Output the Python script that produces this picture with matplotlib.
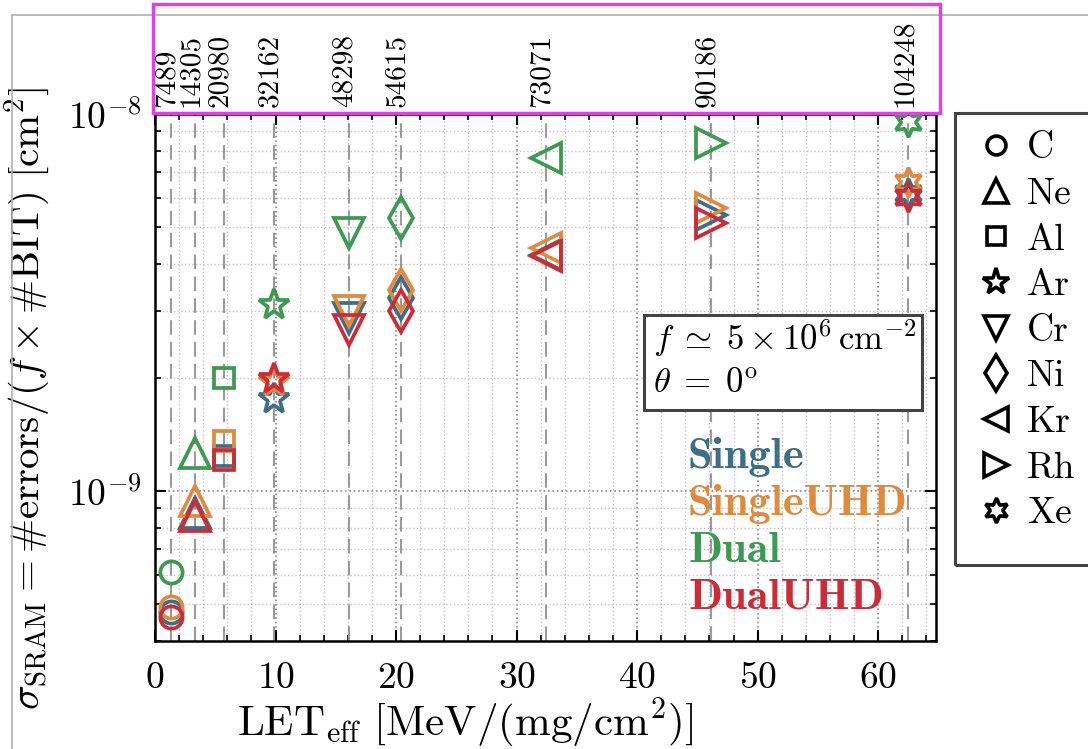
import matplotlib
matplotlib.use('Agg')
import matplotlib.pyplot as plt
import matplotlib.transforms as mtransforms
from matplotlib.lines import Line2D
from matplotlib.patches import Rectangle
from matplotlib.ticker import MultipleLocator, LogLocator, NullFormatter

plt.rcParams['font.family'] = 'serif'
plt.rcParams['font.serif'] = ['cmr10']
plt.rcParams['mathtext.fontset'] = 'cm'
plt.rcParams['axes.formatter.use_mathtext'] = True

# heavy-ion beams and their effective LET [MeV/(mg/cm2)]
ions = ['C', 'Ne', 'Al', 'Ar', 'Cr', 'Ni', 'Kr', 'Rh', 'Xe']
let_eff = [1.3, 3.3, 5.7, 9.9, 16.1, 20.4, 32.4, 46.1, 62.5]
top_counts = ['7489', '14305', '20980', '32162', '48298', '54615', '73071', '90186', '104248']

# SRAM cross sections [cm2] per configuration
single = [4.77e-10, 8.73e-10, 1.24e-9, 1.75e-9, 2.88e-9, 3.26e-9, 4.23e-9, 5.40e-9, 6.18e-9]
single_uhd = [4.92e-10, 9.40e-10, 1.36e-9, 1.95e-9, 3.00e-9, 3.42e-9, 4.42e-9, 5.63e-9, 6.62e-9]
dual = [6.08e-10, 1.26e-9, 2.00e-9, 3.12e-9, 4.84e-9, 5.30e-9, 7.63e-9, 8.36e-9, 9.54e-9]
dual_uhd = [4.62e-10, 8.59e-10, 1.21e-9, 1.98e-9, 2.68e-9, 3.00e-9, 4.19e-9, 5.14e-9, 6.04e-9]

series = [
    ('Single', single, '#3e6f86'),
    ('SingleUHD', single_uhd, '#e28a3b'),
    ('Dual', dual, '#3c9a52'),
    ('DualUHD', dual_uhd, '#cf2b37'),
]

markers = ['o', '^', 's', '*', 'v', 'd', '<', '>', (6, 1, 0)]
msizes = [16, 21, 15, 23, 21, 21, 21, 21, 21]

W, H = 1088, 749
fig = plt.figure(figsize=(W / 100, H / 100), dpi=100)
ax = fig.add_axes([155 / W, 1 - 641 / H, (936 - 155) / W, (641 - 114) / H])


def px(x, y):
    """figure pixel (from top-left) -> figure fraction"""
    return x / W, 1 - y / H


for x in let_eff:
    ax.axvline(x, color='#9a9a9a', ls=(0, (7, 3.5)), lw=1.5, zorder=1)

for name, vals, color in series:
    for x, y, m, s in zip(let_eff, vals, markers, msizes):
        ax.plot(x, y, marker=m, ms=s, mfc='none', mec=color, mew=2.7,
                ls='none', zorder=3)

ax.set_yscale('log')
ax.set_xlim(0, 64.8)
ax.set_ylim(4.0e-10, 1e-8)
ax.xaxis.set_major_locator(MultipleLocator(10))
ax.xaxis.set_minor_locator(MultipleLocator(2))
ax.yaxis.set_major_locator(LogLocator(base=10))
ax.yaxis.set_minor_locator(LogLocator(base=10, subs=range(2, 10)))
ax.yaxis.set_minor_formatter(NullFormatter())

ax.grid(which='major', ls=':', color='#8a8a8a', lw=1.2, zorder=0)
ax.grid(which='minor', ls=':', color='#c4c4c4', lw=1.0, zorder=0)
ax.set_axisbelow(True)

ax.tick_params(which='both', direction='in', top=True, right=True, labelsize=27)
ax.tick_params(which='major', length=8, width=1.5)
ax.tick_params(which='minor', length=4.5, width=1.2)
ax.tick_params(axis='x', which='major', pad=15)
ax.tick_params(axis='y', which='major', pad=10)
for sp in ax.spines.values():
    sp.set_linewidth(1.8)

ax.set_xlabel(r'$\mathrm{LET}_{\mathrm{eff}}\ [\mathrm{MeV}/(\mathrm{mg}/\mathrm{cm}^2)]$',
              fontsize=31)
ax.xaxis.set_label_coords(0.397, -0.105)
ax.set_ylabel(r'$\sigma_{\mathrm{SRAM}} = \#\mathrm{errors}/(f \times \#\mathrm{BIT})\ [\mathrm{cm}^2]$',
              fontsize=29.5)
ax.yaxis.set_label_coords(-0.131, 0.46)

# event counts written above each beam line
top_trans = mtransforms.offset_copy(
    mtransforms.blended_transform_factory(ax.transData, ax.transAxes),
    fig=fig, x=-4, y=7, units='dots')
for x, lab in zip(let_eff, top_counts):
    ax.text(x, 1.0, lab, transform=top_trans, rotation=90,
            ha='center', va='bottom', fontsize=21)

# beam conditions box
bx0, by0 = px(644, 410)
bx1, by1 = px(922, 315)
fig.add_artist(Rectangle((bx0, by0), bx1 - bx0, by1 - by0, transform=fig.transFigure,
                         fc='white', ec='#444444', lw=2.2, zorder=4))
fig.text(*px(653, 338), r'$f\;\simeq\;5 \times 10^6\,\mathrm{cm}^{-2}$',
         ha='left', va='center', fontsize=25, zorder=5)
fig.text(*px(653, 383), r'$\theta\;=\;0^{\mathrm{o}}$',
         ha='left', va='center', fontsize=25, zorder=5)

# configuration names in their colours
for i, (name, vals, color) in enumerate(series):
    fig.text(*px(688, 457 + 47 * i), name, ha='left', va='center', fontsize=32,
             family='cmb10', color=color, zorder=5)

# ion legend outside the axes, frame drawn separately so it runs off the page
lx0, ly0 = px(955, 565)
lx1, ly1 = px(1110, 113)
fig.add_artist(Rectangle((lx0, ly0), lx1 - lx0, ly1 - ly0, transform=fig.transFigure,
                         fill=False, ec='#444444', lw=2.2))
handles = [Line2D([], [], marker=m, ls='none', ms=s * 0.85, mfc='none', mec='k', mew=2.6)
           for m, s in zip(markers, msizes)]
fig.legend(handles, ions, loc='upper left', bbox_to_anchor=px(977, 132),
           bbox_transform=fig.transFigure, fontsize=27, frameon=False,
           labelspacing=0.33, handlelength=1.0, handletextpad=0.33,
           borderpad=0, borderaxespad=0)

# page frame and highlight around the count labels
fig.add_artist(Line2D([px(12, 0)[0], 1], [px(0, 15)[1]] * 2, color='#b0b0b0', lw=1.2))
fig.add_artist(Line2D([px(12, 0)[0]] * 2, [px(0, 15)[1], 0], color='#b0b0b0', lw=1.2))
x0, y0 = px(153, 113)
x1, y1 = px(940, 4)
fig.add_artist(Rectangle((x0, y0), x1 - x0, y1 - y0, transform=fig.transFigure,
                         fill=False, ec='#e040e4', lw=2.5, zorder=10))

fig.savefig('out.png', dpi=100)
